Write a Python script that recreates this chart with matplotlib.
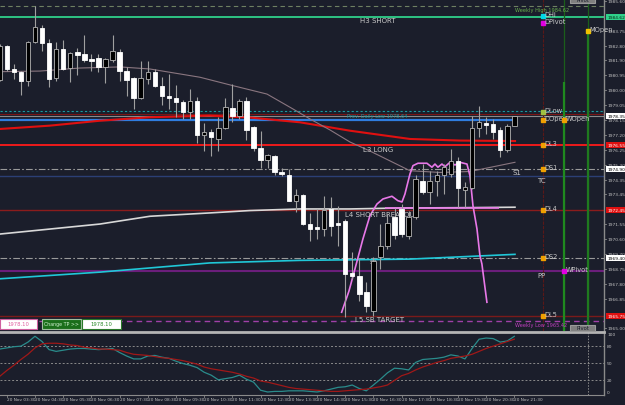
import matplotlib
matplotlib.use('Agg')
import matplotlib.pyplot as plt
import matplotlib.transforms as mtransforms
from matplotlib.patches import Rectangle
import numpy as np

# =========================
# data: 15 min candles, bar 0 = 20 Nov 03:30
# =========================
bars = list(range(-1, 73))

opens = [1980.66, 1982.77, 1981.34, 1981.17, 1980.60, 1983.02, 1983.92, 1982.96, 1980.75, 1982.60,
         1981.38, 1982.39, 1982.28, 1981.97, 1982.01, 1981.45, 1981.93, 1982.43, 1981.23, 1980.75,
         1979.49, 1980.71, 1981.13, 1980.25, 1979.66, 1979.54, 1979.24, 1978.65, 1979.30, 1977.16,
         1977.35, 1976.93, 1977.60, 1978.88, 1978.36, 1979.34, 1977.67, 1976.34, 1975.62, 1975.88,
         1974.87, 1974.66, 1973.04, 1973.40, 1971.57, 1971.36, 1971.26, 1972.52, 1971.62, 1971.78,
         1968.49, 1968.28, 1967.27, 1966.11, 1969.49, 1970.19, 1972.01, 1972.52, 1970.82, 1972.01,
         1974.30, 1973.61, 1974.28, 1974.66, 1974.72, 1975.54, 1973.72, 1973.84, 1977.60, 1977.94,
         1977.87, 1977.50, 1976.25, 1977.77]
highs = [1982.91, 1982.85, 1981.65, 1981.21, 1983.12, 1985.29, 1984.11, 1983.23, 1983.02, 1983.17,
         1982.39, 1982.64, 1983.50, 1982.28, 1982.28, 1982.01, 1983.48, 1982.60, 1981.45, 1980.82,
         1981.86, 1981.86, 1981.34, 1980.84, 1981.02, 1980.33, 1979.39, 1980.08, 1979.57, 1977.94,
         1977.56, 1978.30, 1979.49, 1980.39, 1979.45, 1979.55, 1977.77, 1977.45, 1975.98, 1975.90,
         1975.08, 1975.04, 1973.78, 1973.46, 1972.27, 1972.52, 1973.36, 1973.26, 1972.73, 1971.89,
         1969.81, 1969.37, 1967.92, 1969.49, 1971.57, 1972.20, 1972.58, 1972.83, 1972.39, 1974.66,
         1975.35, 1974.91, 1974.93, 1975.35, 1976.30, 1975.79, 1974.22, 1978.38, 1978.99, 1978.31,
         1978.19, 1977.68, 1977.87, 1978.40]
lows = [1980.60, 1981.21, 1980.71, 1979.72, 1980.29, 1982.96, 1982.49, 1980.22, 1980.60, 1981.30,
        1980.54, 1980.96, 1981.76, 1981.23, 1981.17, 1980.44, 1981.80, 1980.60, 1979.66, 1978.82,
        1979.45, 1980.39, 1980.21, 1979.07, 1978.82, 1978.31, 1978.19, 1978.19, 1976.68, 1976.19,
        1975.88, 1976.19, 1977.56, 1977.98, 1978.19, 1976.88, 1976.19, 1975.08, 1975.08, 1974.66,
        1974.60, 1973.02, 1972.33, 1971.51, 1970.52, 1970.63, 1970.84, 1970.84, 1970.21, 1965.71,
        1968.11, 1966.74, 1966.03, 1965.80, 1968.74, 1970.00, 1970.63, 1970.75, 1970.63, 1971.89,
        1973.46, 1972.83, 1973.36, 1973.46, 1974.53, 1972.64, 1972.64, 1973.78, 1977.05, 1977.24,
        1976.93, 1975.79, 1976.11, 1977.75]
closes = [1982.81, 1981.34, 1981.13, 1980.60, 1983.02, 1983.97, 1982.96, 1980.71, 1982.60, 1981.34,
          1982.35, 1982.24, 1981.91, 1981.82, 1981.45, 1981.97, 1982.49, 1981.23, 1980.66, 1979.49,
          1980.75, 1981.13, 1980.25, 1979.66, 1979.51, 1979.24, 1978.61, 1979.35, 1977.15, 1977.35,
          1977.04, 1977.60, 1978.93, 1978.40, 1979.30, 1977.51, 1976.34, 1975.62, 1975.92, 1974.87,
          1974.70, 1973.04, 1973.40, 1971.57, 1971.26, 1971.26, 1972.47, 1971.47, 1971.53, 1968.42,
          1968.32, 1967.16, 1966.43, 1969.24, 1970.19, 1971.64, 1970.88, 1970.94, 1972.01, 1974.41,
          1973.61, 1974.28, 1974.66, 1975.16, 1975.54, 1973.84, 1973.90, 1977.62, 1977.98, 1977.81,
          1977.39, 1976.25, 1977.77, 1978.36]

# moving averages, read at a few bars
red_ma_x = [-0.96, 6.1, 13.2, 20.3, 28.8, 34.5, 41.6, 48.7, 57.2, 64.3, 72.1]
red_ma_y = [1977.56, 1977.77, 1978.08, 1978.30, 1978.40, 1978.28, 1977.98, 1977.45, 1976.93, 1976.83, 1976.80]

gray_ma_x = [-0.96, 4.71, 10.38, 16.06, 20.31, 27.4, 32.08, 36.91, 40.6, 43.01, 45.84, 48.68, 51.52,
             57.19, 61.45, 65.7, 72.09]
gray_ma_y = [1981.17, 1981.21, 1981.40, 1981.47, 1981.34, 1980.82, 1980.29, 1979.76, 1978.82, 1978.19,
             1977.50, 1976.74, 1976.17, 1974.93, 1974.82, 1974.88, 1975.46]

white_ma_x = [-0.96, 13.22, 20.31, 28.82, 34.5, 41.59, 48.68, 55.77, 64.3, 72.09]
white_ma_y = [1970.94, 1971.57, 1972.06, 1972.27, 1972.42, 1972.52, 1972.52, 1972.58, 1972.60, 1972.63]

cyan_ma_x = [-0.96, 13.22, 28.82, 41.59, 57.19, 72.09]
cyan_ma_y = [1968.12, 1968.54, 1969.12, 1969.28, 1969.36, 1969.66]

pink_x = [47.5, 48.54, 49.39, 50.52, 51.52, 52.51, 53.36, 54.64, 55.48, 56.06, 56.48, 57.19, 57.62,
          58.33, 59.6, 60.31, 60.74, 61.16, 61.73, 62.16, 62.87, 63.58, 64.28, 65.28, 65.7, 66.13,
          66.7, 67.12, 67.4, 68.11]
pink_y = [1966.01, 1967.35, 1968.74, 1970.63, 1972.10, 1972.83, 1973.15, 1973.32, 1973.04, 1972.96,
          1973.46, 1974.72, 1975.25, 1975.40, 1975.40, 1975.15, 1975.35, 1975.15, 1975.35, 1975.18,
          1975.46, 1975.29, 1975.46, 1975.35, 1974.62, 1972.73, 1971.26, 1969.58, 1969.05, 1966.64]

# stochastic
stoch_k = [74, 76, 78, 79, 86, 96, 87, 73, 70, 72, 74, 75, 75, 74, 73, 74, 75, 68, 62, 57,
           57, 62, 63, 60, 58, 53, 49, 46, 42, 34, 29, 21, 23, 25, 29, 22, 17, 3, 0, 1,
           1, 2, 2, 2, 1, 0, 2, 5, 8, 9, 12, 6, 2, 12, 22, 33, 41, 40, 38, 51,
           56, 57, 58, 60, 64, 62, 57, 75, 91, 93, 92, 86, 88, 96]
stoch_d = [27, 37, 46, 56, 65, 76, 83, 84, 84, 83, 81, 80, 77, 76, 74, 74, 73, 72, 68, 65,
           64, 63, 61, 59, 58, 56, 54, 51, 48, 43, 40, 38, 36, 34, 31, 27, 24, 19, 17, 14,
           11, 8, 6, 5, 4, 3, 2, 1, 1, 2, 3, 4, 5, 7, 9, 12, 20, 28, 32, 38,
           43, 47, 51, 54, 58, 60, 62, 65, 70, 75, 79, 83, 87, 91]

time_labels = ['03:30', '04:30', '05:30', '06:30', '07:30', '08:30', '09:30', '10:30', '11:30', '12:30',
               '13:30', '14:30', '15:30', '16:30', '17:30', '18:30', '19:30', '20:30', '21:30']

price_ticks = [1965.00, 1966.85, 1967.80, 1968.75, 1969.70, 1970.60, 1971.55, 1973.45, 1974.35,
               1975.30, 1976.25, 1977.20, 1978.15, 1979.05, 1980.00, 1980.95, 1981.90, 1982.80,
               1983.75, 1985.60]

# =========================
# figure
# =========================
BG = '#1b1e2b'
W, H = 625, 406
fig = plt.figure(figsize=(6.25, 4.06), dpi=100, facecolor=BG)
ax = fig.add_axes([0, 74 / H, 604 / W, 332 / H], facecolor=BG)
ax2 = fig.add_axes([0, 10 / H, 604 / W, 63 / H], facecolor=BG)

XMIN, XMAX = -0.965, 84.72
ax.set_xlim(XMIN, XMAX)
ax.set_ylim(1964.83, 1985.75)
ax2.set_xlim(XMIN, XMAX)
ax2.set_ylim(-5.2, 103.4)

for a in (ax, ax2):
    a.set_xticks([])
    a.set_yticks([])
    for s in a.spines.values():
        s.set_visible(False)
    a.spines['right'].set_visible(True)
    a.spines['right'].set_color('#8a8a8a')
    a.spines['right'].set_linewidth(1)
ax2.spines['top'].set_visible(True)
ax2.spines['top'].set_color('#b4b4b4')
ax2.spines['top'].set_linewidth(2)
ax2.spines['bottom'].set_visible(True)
ax2.spines['bottom'].set_color('#8a8a8a')

FS = 5
LBL = '#c8c8c8'
AXFS = 3.2

# horizontal levels
ax.axhline(1985.31, color='#6e8062', lw=0.8, ls=(0, (4, 3)))
ax.axhline(1984.64, color='#2fd08a', lw=1.3)
ax.axhline(1978.67, color='#1a9aa0', lw=0.8, ls=(0, (2, 2)))
ax.axhline(1978.50, color='#7a1515', lw=0.8)
ax.axhline(1978.36, color='#8a8a8a', lw=0.8)
ax.hlines(1978.12, XMIN, 72.1, color='#2f7de0', lw=1.6)
ax.axhline(1976.55, color='#ff1a1a', lw=1.3)
ax.axhline(1975.02, color='#9a9a9a', lw=0.8, ls=(0, (6, 2, 1.5, 2)))
ax.axhline(1974.58, color='#2b3f75', lw=1)
ax.axhline(1972.45, color='#8b1c1c', lw=1)
ax.axhline(1969.41, color='#9a9a9a', lw=0.8, ls=(0, (6, 2, 1.5, 2)))
ax.axhline(1968.59, color='#6b1e7b', lw=1.5)
ax.axhline(1965.76, color='#7a1a1a', lw=1)
ax.axhline(1965.44, color='#a040a8', lw=1, ls=(0, (4, 3)))

# vertical lines in the future area
ax.axvline(76.1, color='#5a1818', lw=0.8, ls=(0, (3, 1)))
ax.axvline(79.1, color='#1b5e1b', lw=0.9)
ax.vlines(79.1, 1964.83, 1980.50, color='#1f8a1f', lw=1.6)
ax.axvline(82.5, color='#1b5e1b', lw=0.9)
ax.vlines(82.5, 1964.83, 1983.75, color='#1f7a1f', lw=1.6)

# moving averages
ax.plot(red_ma_x, red_ma_y, color='#e01010', lw=1.5)
ax.plot(gray_ma_x, gray_ma_y, color='#8a7680', lw=0.8)
ax.plot(white_ma_x, white_ma_y, color='#d8d8d8', lw=1.2)
ax.plot(cyan_ma_x, cyan_ma_y, color='#20c8d8', lw=1.2)
ax.plot(pink_x, pink_y, color='#e878e8', lw=1.2)
ax.hlines(1972.58, 53.65, 69.8, color='#e878e8', lw=1.2)

# candles
for x, o, h, l, c in zip(bars, opens, highs, lows, closes):
    ax.vlines(x, l, h, color='#a0a0a0', lw=0.8, zorder=4)
    bull = c > o
    ax.bar(x, max(abs(c - o), 0.04), bottom=min(o, c), width=0.64,
           color='#000000' if bull else '#ffffff',
           edgecolor='#b4b4b4' if bull else '#ffffff', linewidth=0.6, zorder=5)

# chart texts
ax.text(50.1, 1984.43, 'H3 SHORT', color=LBL, fontsize=FS, va='center')
ax.text(72.1, 1985.08, 'Weekly High 1984.62', color='#6ab04c', fontsize=3.6, va='center')
ax.text(48.3, 1978.44, 'Prev. Daily Low 1978.64', color='#1a9aa0', fontsize=3.6, va='center')
ax.text(50.5, 1976.30, 'L3 LONG', color=LBL, fontsize=FS, va='center')
ax.text(71.7, 1974.83, 'S1', color=LBL, fontsize=FS, va='center')
ax.text(75.2, 1974.34, 'TC', color=LBL, fontsize=FS, va='center')
ax.text(48.0, 1972.20, 'L4 SHORT BREAKOUT', color=LBL, fontsize=FS, va='center', zorder=3)
ax.text(51.5, 1969.24, 'S3', color=LBL, fontsize=4.5, va='center', zorder=3)
ax.text(75.2, 1968.36, 'PP', color=LBL, fontsize=FS, va='center')
ax.text(49.4, 1965.59, 'L5 SB TARGET', color=LBL, fontsize=FS, va='center')
ax.text(72.1, 1965.23, 'Weekly Low 1965.42', color='#c040c0', fontsize=3.6, va='center')

# level markers with names
markers = [
    (76.1, 1984.66, '#00d8e8', 'DHi'),
    (76.1, 1984.22, '#e000e0', 'DPivot'),
    (82.5, 1983.75, '#f0c000', 'MOpen'),
    (76.1, 1978.65, '#a0c040', 'DLow'),
    (76.1, 1978.11, '#f0a000', 'DOpen'),
    (79.1, 1978.11, '#f0a000', 'WOpen'),
    (76.1, 1976.55, '#f0a000', 'DL3'),
    (76.1, 1975.02, '#f0a000', 'DS1'),
    (76.1, 1972.45, '#f0a000', 'DL4'),
    (76.1, 1969.41, '#f0a000', 'DS2'),
    (79.1, 1968.59, '#e000e0', 'WPivot'),
    (76.1, 1965.76, '#f0a000', 'DL5'),
]
for mx, my, mc, name in markers:
    ax.plot(mx, my, 's', color=mc, ms=2.6, zorder=6)
    t = ax.annotate(name, (mx, my), xytext=(1.0, -0.8), textcoords='offset points',
                    color=LBL, fontsize=4.8, va='bottom', ha='left', zorder=6)
    t.set_clip_on(True)

# right price scale
tr = mtransforms.blended_transform_factory(ax.transAxes, ax.transData)
for p in price_ticks:
    ax.text(1.005, p, f'{p:.2f}', transform=tr, color='#c0c0c0', fontsize=AXFS,
            va='center', ha='left', clip_on=False)
    ax.plot([1.0, 1.003], [p, p], transform=tr, color='#8a8a8a', lw=0.6, clip_on=False)

boxes = [(1984.64, '1984.62', '#2fd08a', '#0a2a1a'),
         (1978.36, '1978.35', '#ffffff', '#000000'),
         (1976.55, '1976.55', '#e01010', '#ffffff'),
         (1975.02, '1974.90', '#ffffff', '#000000'),
         (1972.45, '1972.45', '#e01010', '#ffffff'),
         (1969.41, '1969.40', '#ffffff', '#000000'),
         (1965.76, '1965.75', '#e01010', '#ffffff')]
for p, t, fc, tc in boxes:
    ax.text(1.005, p, t, transform=tr, color=tc, fontsize=AXFS, va='center', ha='left',
            clip_on=False, zorder=10,
            bbox=dict(boxstyle='square,pad=0.2', fc=fc, ec='none'))

# pivot tabs and trade panel (figure pixel positions)
def fig_box(x0, y0, x1, y1, fc, ec, text, tc, fs=3.8):
    fig.add_artist(Rectangle((x0 / W, 1 - y1 / H), (x1 - x0) / W, (y1 - y0) / H,
                             transform=fig.transFigure, fc=fc, ec=ec, lw=0.8, zorder=20))
    fig.text((x0 + x1) / 2 / W, 1 - (y0 + y1) / 2 / H, text, color=tc, fontsize=fs,
             ha='center', va='center', zorder=21)

fig_box(570, -4, 595, 4, '#7f7f7f', '#9a9a9a', 'Pivot', '#1b1e2b')
fig_box(570, 325.5, 595, 332, '#7f7f7f', '#9a9a9a', 'Pivot', '#1b1e2b')
fig_box(0, 320, 37, 330, '#ffffff', '#d060a0', '1978.10', '#e060a0')
fig_box(42, 320, 81, 330, '#1a6e1a', '#a0c0a0', 'Change TP >>', '#d0f0d0', 3.4)
fig_box(82, 320, 121, 330, '#ffffff', '#2a7a2a', '1978.10', '#2a8a2a')

# =========================
# stochastic panel
# =========================
for v in (80, 50, 20):
    ax2.axhline(v, color='#8a8a8a', lw=0.7, ls=(0, (2, 2)))
ax2.axvline(82.5, color='#8a8a8a', lw=0.7, ls=(0, (1.5, 1.5)))
ax2.plot(bars, stoch_k, color='#2a8c8c', lw=0.9)
ax2.plot(bars, stoch_d, color='#a01818', lw=0.9)

tr2 = mtransforms.blended_transform_factory(ax2.transAxes, ax2.transData)
for v in (100, 80, 50, 20, 0):
    ax2.text(1.005, v, str(v), transform=tr2, color='#c0c0c0', fontsize=AXFS,
             va='center', ha='left', clip_on=False)

trx = mtransforms.blended_transform_factory(ax2.transData, ax2.transAxes)
for i, t in enumerate(time_labels):
    b = 4 * i
    ax2.text(b, -0.065, '20 Nov ' + t, transform=trx, color='#c0c0c0', fontsize=3.1,
             va='center', ha='left', clip_on=False)
    ax2.plot([b, b], [0, -0.03], transform=trx, color='#8a8a8a', lw=0.6, clip_on=False)

fig.savefig('out.png', dpi=100, facecolor=BG)
